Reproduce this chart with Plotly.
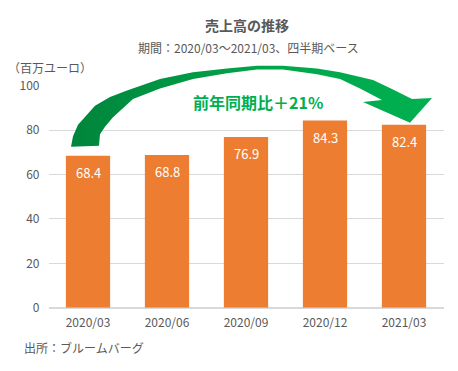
import plotly.graph_objects as go

categories = ["2020/03", "2020/06", "2020/09", "2020/12", "2021/03"]
sales = [68.4, 68.8, 76.9, 84.3, 82.4]
y_ticks = [0, 20, 40, 60, 80, 100]

title = "売上高の推移"
subtitle = "期間：2020/03～2021/03、四半期ベース"
unit = "（百万ユーロ）"
source = "出所：ブルームバーグ"
callout = "前年同期比＋21%"

# page body has an 8px margin; the figure is offset by it
OFF = 8
W, H = 458 - OFF, 371 - OFF
FONT = "Noto Sans CJK JP"
GRAY = "#595959"

def pxx(x):
    return (x - OFF) / W

def pxy(y):
    return 1 - (y - OFF) / H

# arrow outline in page pixel coords (decoration)
arrow_upper = [(71, 143), (73, 132), (78, 120), (87, 110), (95, 100), (110, 91), (127, 84),
               (160, 72), (193, 65), (227, 61), (257, 58), (283, 58), (317, 61), (340, 65),
               (373, 73), (393, 83), (412, 93)]
arrow_head = [(432, 92), (410, 118), (363, 96)]
arrow_lower = [(382, 94), (360, 82), (340, 72), (317, 67), (283, 62), (257, 62), (227, 66),
               (193, 72), (160, 82), (133, 93), (123, 103), (113, 112), (105, 122), (100, 130),
               (99, 142)]
pts = arrow_upper + arrow_head + arrow_lower + [arrow_upper[0]]

fig = go.Figure()
fig.add_trace(go.Bar(
    x=categories, y=sales, marker_color="#ED7D31", marker_line_width=0,
    hoverinfo="skip", xaxis="x", yaxis="y",
))
fig.add_trace(go.Scatter(
    x=[p[0] for p in pts], y=[p[1] for p in pts], mode="lines", line_width=0,
    fill="toself",
    fillgradient=dict(type="horizontal", colorscale=[[0, "#00853C"], [0.55, "#00A64B"], [1, "#00B050"]],
                      start=71, stop=432),
    hoverinfo="skip", xaxis="x2", yaxis="y2", showlegend=False,
))

x0, x1 = 48.5, 443.5
y0px, y100px = 312, 79

annotations = []
for c, v in zip(categories, sales):
    annotations.append(dict(x=c, y=v, xref="x", yref="y", text=f"{v:.1f}", showarrow=False,
                            yshift=-17, font=dict(color="white", size=13, family=FONT)))

def px_ann(text, x, y, size, color=GRAY, bold=False, xanchor="center"):
    return dict(x=pxx(x), y=pxy(y), xref="paper", yref="paper",
                text=f"<b>{text}</b>" if bold else text, showarrow=False,
                xanchor=xanchor, yanchor="middle",
                font=dict(size=size, color=color, family=FONT))

annotations += [
    px_ann(title, 247, 15, 14, bold=True),
    px_ann(subtitle, 248, 39, 12),
    px_ann(unit, 6, 60, 12, xanchor="left"),
    px_ann(source, 22, 354, 12, xanchor="left"),
    px_ann(callout, 258, 96, 16, color="#00B050", bold=True),
]

fig.update_layout(
    width=W, height=H, margin=dict(l=0, r=0, t=0, b=0),
    paper_bgcolor="white", plot_bgcolor="rgba(0,0,0,0)",
    showlegend=False, bargap=0.44,
    font=dict(family=FONT, color=GRAY, size=12),
    xaxis=dict(domain=[pxx(x0), pxx(x1)], anchor="y", showgrid=False, showline=False,
               ticks="", tickfont=dict(size=12, color=GRAY), fixedrange=True,
               ticklabelstandoff=6),
    yaxis=dict(domain=[pxy(y0px), pxy(y100px)], anchor="x", range=[0, 100], tickvals=y_ticks,
               gridcolor="#D9D9D9", gridwidth=1, zeroline=True, zerolinecolor="#D9D9D9",
               showline=False, ticks="", tickfont=dict(size=12, color=GRAY),
               ticklabelstandoff=8),
    xaxis2=dict(domain=[0, 1], anchor="y2", range=[OFF, 458], visible=False),
    yaxis2=dict(domain=[0, 1], anchor="x2", range=[371, OFF], visible=False),
    annotations=annotations,
)

fig.write_html("out.html")
